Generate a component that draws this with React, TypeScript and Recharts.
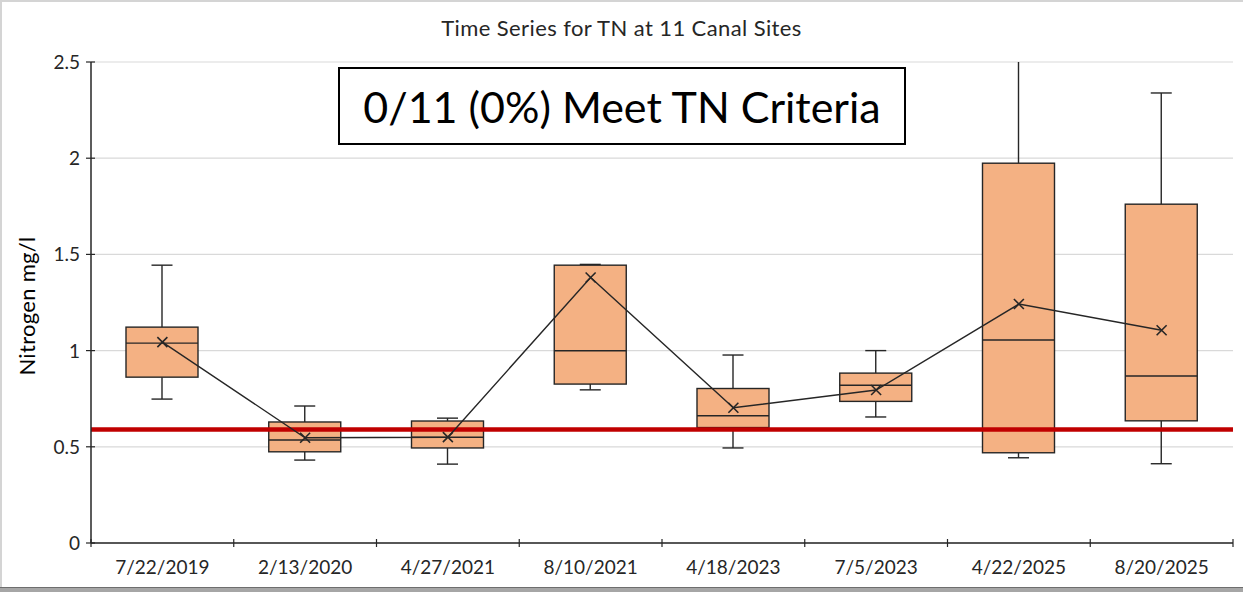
import React from "react";
import {
  ComposedChart,
  Bar,
  Line,
  XAxis,
  YAxis,
  CartesianGrid,
  ReferenceLine,
} from "recharts";

const dates = ["7/22/2019", "2/13/2020", "4/27/2021", "8/10/2021", "4/18/2023", "7/5/2023", "4/22/2025", "8/20/2025"];
const whiskerLow = [0.748, 0.431, 0.41, 0.796, 0.494, 0.655, 0.443, 0.412];
const q1 = [0.862, 0.474, 0.494, 0.826, 0.6, 0.736, 0.469, 0.635];
const median = [1.039, 0.535, 0.55, 0.999, 0.661, 0.82, 1.055, 0.868];
const q3 = [1.122, 0.629, 0.634, 1.444, 0.803, 0.883, 1.974, 1.761];
const whiskerHigh = [1.444, 0.712, 0.649, 1.448, 0.977, 1.0, 2.8, 2.339];
const means = [1.044, 0.547, 0.55, 1.38, 0.703, 0.795, 1.242, 1.106];
const yTicks = [0, 0.5, 1, 1.5, 2, 2.5];
const criteria = 0.59;

const W = 1243;
const H = 592;
const M = { top: 62, right: 10, bottom: 0, left: 0 };
const Y_AXIS_W = 91;
const X_AXIS_H = 49;
const BAND = (W - M.left - M.right - Y_AXIS_W) / dates.length;
const FONT = "Lato, 'Open Sans', sans-serif";
const BOX_FILL = "#F4B183";
const INK = "#262626";

const data = dates.map((date, i) => ({
  date,
  lo: whiskerLow[i],
  q1: q1[i],
  med: median[i],
  q3: q3[i],
  hi: whiskerHigh[i],
  mean: means[i],
}));

// one range bar per date [lo, hi]; box + median placed proportionally inside it
function BoxShape(props: any) {
  const { x, y, width, height, payload } = props;
  const top = Math.min(y, y + height);
  const h = Math.abs(height);
  const span = payload.hi - payload.lo;
  const toY = (v: number) => top + ((payload.hi - v) / span) * h;
  const cx = x + width / 2;
  const capW = 21;
  const yHi = toY(payload.hi);
  const yLo = toY(payload.lo);
  const yQ3 = toY(payload.q3);
  const yQ1 = toY(payload.q1);
  const yMed = toY(payload.med);
  return (
    <g>
      <line x1={cx} x2={cx} y1={yHi} y2={yQ3} stroke={INK} strokeWidth={1.4} />
      <line x1={cx} x2={cx} y1={yQ1} y2={yLo} stroke={INK} strokeWidth={1.4} />
      <line x1={cx - capW / 2} x2={cx + capW / 2} y1={yHi} y2={yHi} stroke={INK} strokeWidth={1.4} />
      <line x1={cx - capW / 2} x2={cx + capW / 2} y1={yLo} y2={yLo} stroke={INK} strokeWidth={1.4} />
      <rect x={x} y={yQ3} width={width} height={yQ1 - yQ3} fill={BOX_FILL} stroke={INK} strokeWidth={1.4} />
      <line x1={x} x2={x + width} y1={yMed} y2={yMed} stroke={INK} strokeWidth={1.4} />
    </g>
  );
}

function MeanMark(props: any) {
  const { cx, cy, index } = props;
  const s = 5;
  return (
    <path
      key={`m-${index}`}
      d={`M${cx - s},${cy - s}L${cx + s},${cy + s}M${cx - s},${cy + s}L${cx + s},${cy - s}`}
      stroke={INK}
      strokeWidth={1.6}
      fill="none"
    />
  );
}

function XTick(props: any) {
  const { x, y, payload, index } = props;
  const last = index === dates.length - 1;
  return (
    <g>
      <line x1={x - BAND / 2} x2={x - BAND / 2} y1={y - 4} y2={y + 4} stroke={INK} strokeWidth={1.2} />
      {last && <line x1={x + BAND / 2} x2={x + BAND / 2} y1={y - 4} y2={y + 4} stroke={INK} strokeWidth={1.2} />}
      <text x={x} y={y + 31} textAnchor="middle" fontSize={19} fontFamily={FONT} fill={INK}>
        {payload.value}
      </text>
    </g>
  );
}

function YTick(props: any) {
  const { x, y, payload } = props;
  return (
    <g>
      <line x1={x - 5} x2={x + 4} y1={y} y2={y} stroke={INK} strokeWidth={1.2} />
      <text x={x - 11} y={y + 7} textAnchor="end" fontSize={19} fontFamily={FONT} fill={INK}>
        {payload.value}
      </text>
    </g>
  );
}

export default function App() {
  return (
    <div
      style={{
        position: "absolute",
        left: 0,
        top: 0,
        width: W,
        height: H,
        background: "#fff",
        fontFamily: FONT,
        overflow: "hidden",
      }}
    >
      <ComposedChart width={W} height={H} data={data} margin={M}>
        <CartesianGrid vertical={false} stroke="#d9d9d9" strokeWidth={1.2} />
        <XAxis
          dataKey="date"
          height={X_AXIS_H}
          tickLine={false}
          tickSize={0}
          tickMargin={0}
          axisLine={{ stroke: INK, strokeWidth: 1.5 }}
          tick={<XTick />}
          interval={0}
        />
        <YAxis
          width={Y_AXIS_W}
          domain={[0, 2.5]}
          ticks={yTicks}
          allowDataOverflow
          tickLine={false}
          tickSize={0}
          tickMargin={0}
          axisLine={{ stroke: INK, strokeWidth: 1.5 }}
          tick={<YTick />}
        />
        <Bar dataKey={(d: any) => [d.lo, d.hi]} barSize={72} shape={<BoxShape />} isAnimationActive={false} />
        <ReferenceLine y={criteria} stroke="#C00000" strokeWidth={4.5} />
        <Line
          dataKey="mean"
          stroke={INK}
          strokeWidth={1.4}
          dot={<MeanMark />}
          activeDot={false}
          isAnimationActive={false}
        />
      </ComposedChart>

      <div
        style={{
          position: "absolute",
          left: 0,
          width: W,
          top: 14,
          textAlign: "center",
          fontSize: 22,
          letterSpacing: 0.4,
          lineHeight: "28px",
          color: "#262626",
        }}
      >
        Time Series for TN at 11 Canal Sites
      </div>

      <div
        style={{
          position: "absolute",
          left: 26,
          top: 306,
          transform: "translate(-50%, -50%) rotate(-90deg)",
          fontSize: 22,
          letterSpacing: 0.3,
          whiteSpace: "nowrap",
          color: "#000",
        }}
      >
        Nitrogen mg/l
      </div>

      <div
        style={{
          position: "absolute",
          left: 338,
          top: 67,
          width: 568,
          height: 78,
          boxSizing: "border-box",
          border: "2px solid #000",
          background: "#fff",
          display: "flex",
          alignItems: "center",
          justifyContent: "center",
          fontSize: 43,
          color: "#000",
        }}
      >
        0/11 (0%) Meet TN Criteria
      </div>

      <div style={{ position: "absolute", left: 0, top: 0, width: 2, height: H, background: "#d4d4d4" }} />
      <div style={{ position: "absolute", left: 0, top: 0, width: W, height: 2, background: "#d4d4d4" }} />
      <div style={{ position: "absolute", left: 0, top: H - 5, width: W, height: 5, background: "#a6a6a6", borderTop: "1px solid #6e6e6e" }} />
    </div>
  );
}
